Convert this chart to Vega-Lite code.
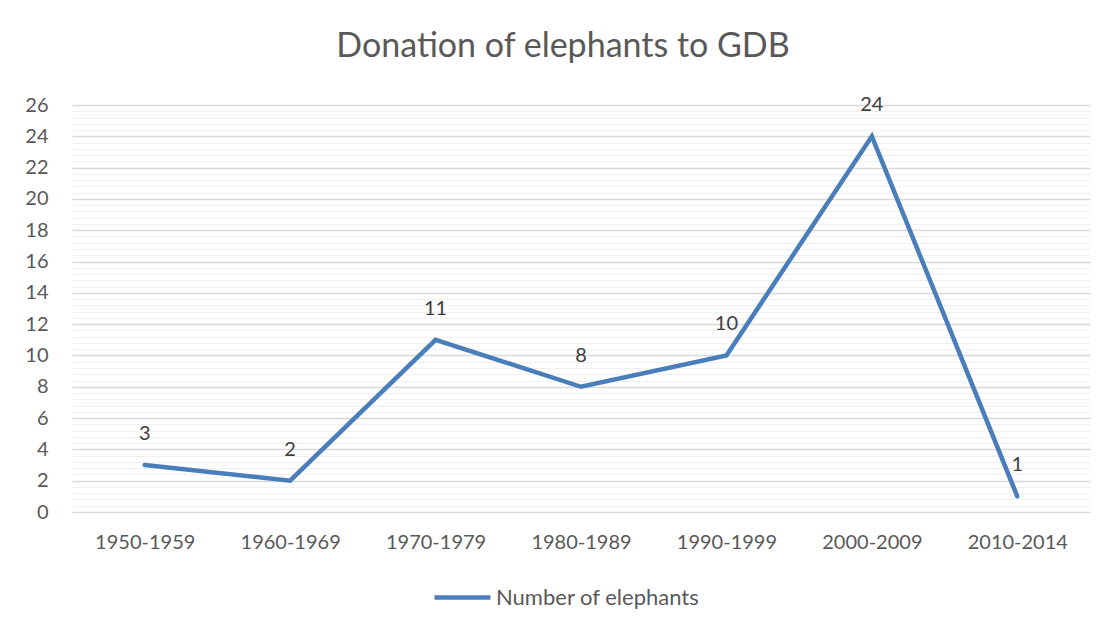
{
  "$schema": "https://vega.github.io/schema/vega-lite/v6.json",
  "width": 1018,
  "height": 407,
  "autosize": {"type": "none"},
  "padding": {"left": 72, "top": 105, "right": 19, "bottom": 119},
  "background": "white",
  "title": {
    "text": "Donation of elephants to GDB",
    "font": "Lato",
    "fontSize": 34,
    "fontWeight": "normal",
    "color": "#595959",
    "offset": 31,
    "dx": -18
  },
  "config": {
    "view": {"stroke": null},
    "font": "Lato"
  },
  "data": {
    "values": [
      {"decade": "1950-1959", "elephants": 3},
      {"decade": "1960-1969", "elephants": 2},
      {"decade": "1970-1979", "elephants": 11},
      {"decade": "1980-1989", "elephants": 8},
      {"decade": "1990-1999", "elephants": 10},
      {"decade": "2000-2009", "elephants": 24},
      {"decade": "2010-2014", "elephants": 1}
    ]
  },
  "encoding": {
    "x": {
      "field": "decade",
      "type": "ordinal",
      "sort": null,
      "scale": {"type": "point", "padding": 0.5},
      "axis": {
        "title": null,
        "labelAngle": 0,
        "labelFont": "Lato",
        "labelFontSize": 20,
        "labelColor": "#595959",
        "labelPadding": 20,
        "ticks": false,
        "tickSize": 0,
        "domain": false,
        "grid": false
      }
    },
    "y": {
      "field": "elephants",
      "type": "quantitative",
      "scale": {"domain": [0, 26], "nice": false, "zero": true},
      "axis": {
        "title": null,
        "values": [0, 0.4, 0.8, 1.2, 1.6, 2, 2.4, 2.8, 3.2, 3.6, 4, 4.4, 4.8, 5.2, 5.6, 6, 6.4, 6.8, 7.2, 7.6, 8, 8.4, 8.8, 9.2, 9.6, 10, 10.4, 10.8, 11.2, 11.6, 12, 12.4, 12.8, 13.2, 13.6, 14, 14.4, 14.8, 15.2, 15.6, 16, 16.4, 16.8, 17.2, 17.6, 18, 18.4, 18.8, 19.2, 19.6, 20, 20.4, 20.8, 21.2, 21.6, 22, 22.4, 22.8, 23.2, 23.6, 24, 24.4, 24.8, 25.2, 25.6, 26],
        "labelExpr": "abs(datum.value - round(datum.value / 2) * 2) < 0.01 ? format(datum.value, 'd') : ''",
        "labelFont": "Lato",
        "labelFontSize": 20,
        "labelColor": "#595959",
        "labelPadding": 24,
        "ticks": false,
        "tickSize": 0,
        "domain": false,
        "grid": true,
        "gridWidth": {"condition": {"test": "abs(datum.value - round(datum.value / 2) * 2) < 0.01", "value": 1.3}, "value": 1},
        "gridColor": {"condition": {"test": "abs(datum.value - round(datum.value / 2) * 2) < 0.01", "value": "#d9d9d9"}, "value": "#f0f0f0"}
      }
    }
  },
  "layer": [
    {
      "mark": {"type": "line", "strokeWidth": 4.5, "strokeCap": "round", "strokeJoin": "miter"},
      "encoding": {
        "color": {
          "datum": "Number of elephants",
          "type": "nominal",
          "scale": {"range": ["#4a7ebb"]},
          "legend": {
            "title": null,
            "orient": "none",
            "legendX": 360,
            "legendY": 462,
            "symbolType": "stroke",
            "symbolSize": 3136,
            "symbolStrokeWidth": 4.5,
            "labelFont": "Lato",
            "labelFontSize": 22,
            "labelColor": "#595959",
            "labelOffset": 3,
            "labelLimit": 400
          }
        }
      }
    },
    {
      "mark": {"type": "text", "dy": -31, "baseline": "middle", "align": "center", "font": "Lato", "fontSize": 20, "color": "#404040"},
      "encoding": {"text": {"field": "elephants", "type": "quantitative"}}
    }
  ]
}
